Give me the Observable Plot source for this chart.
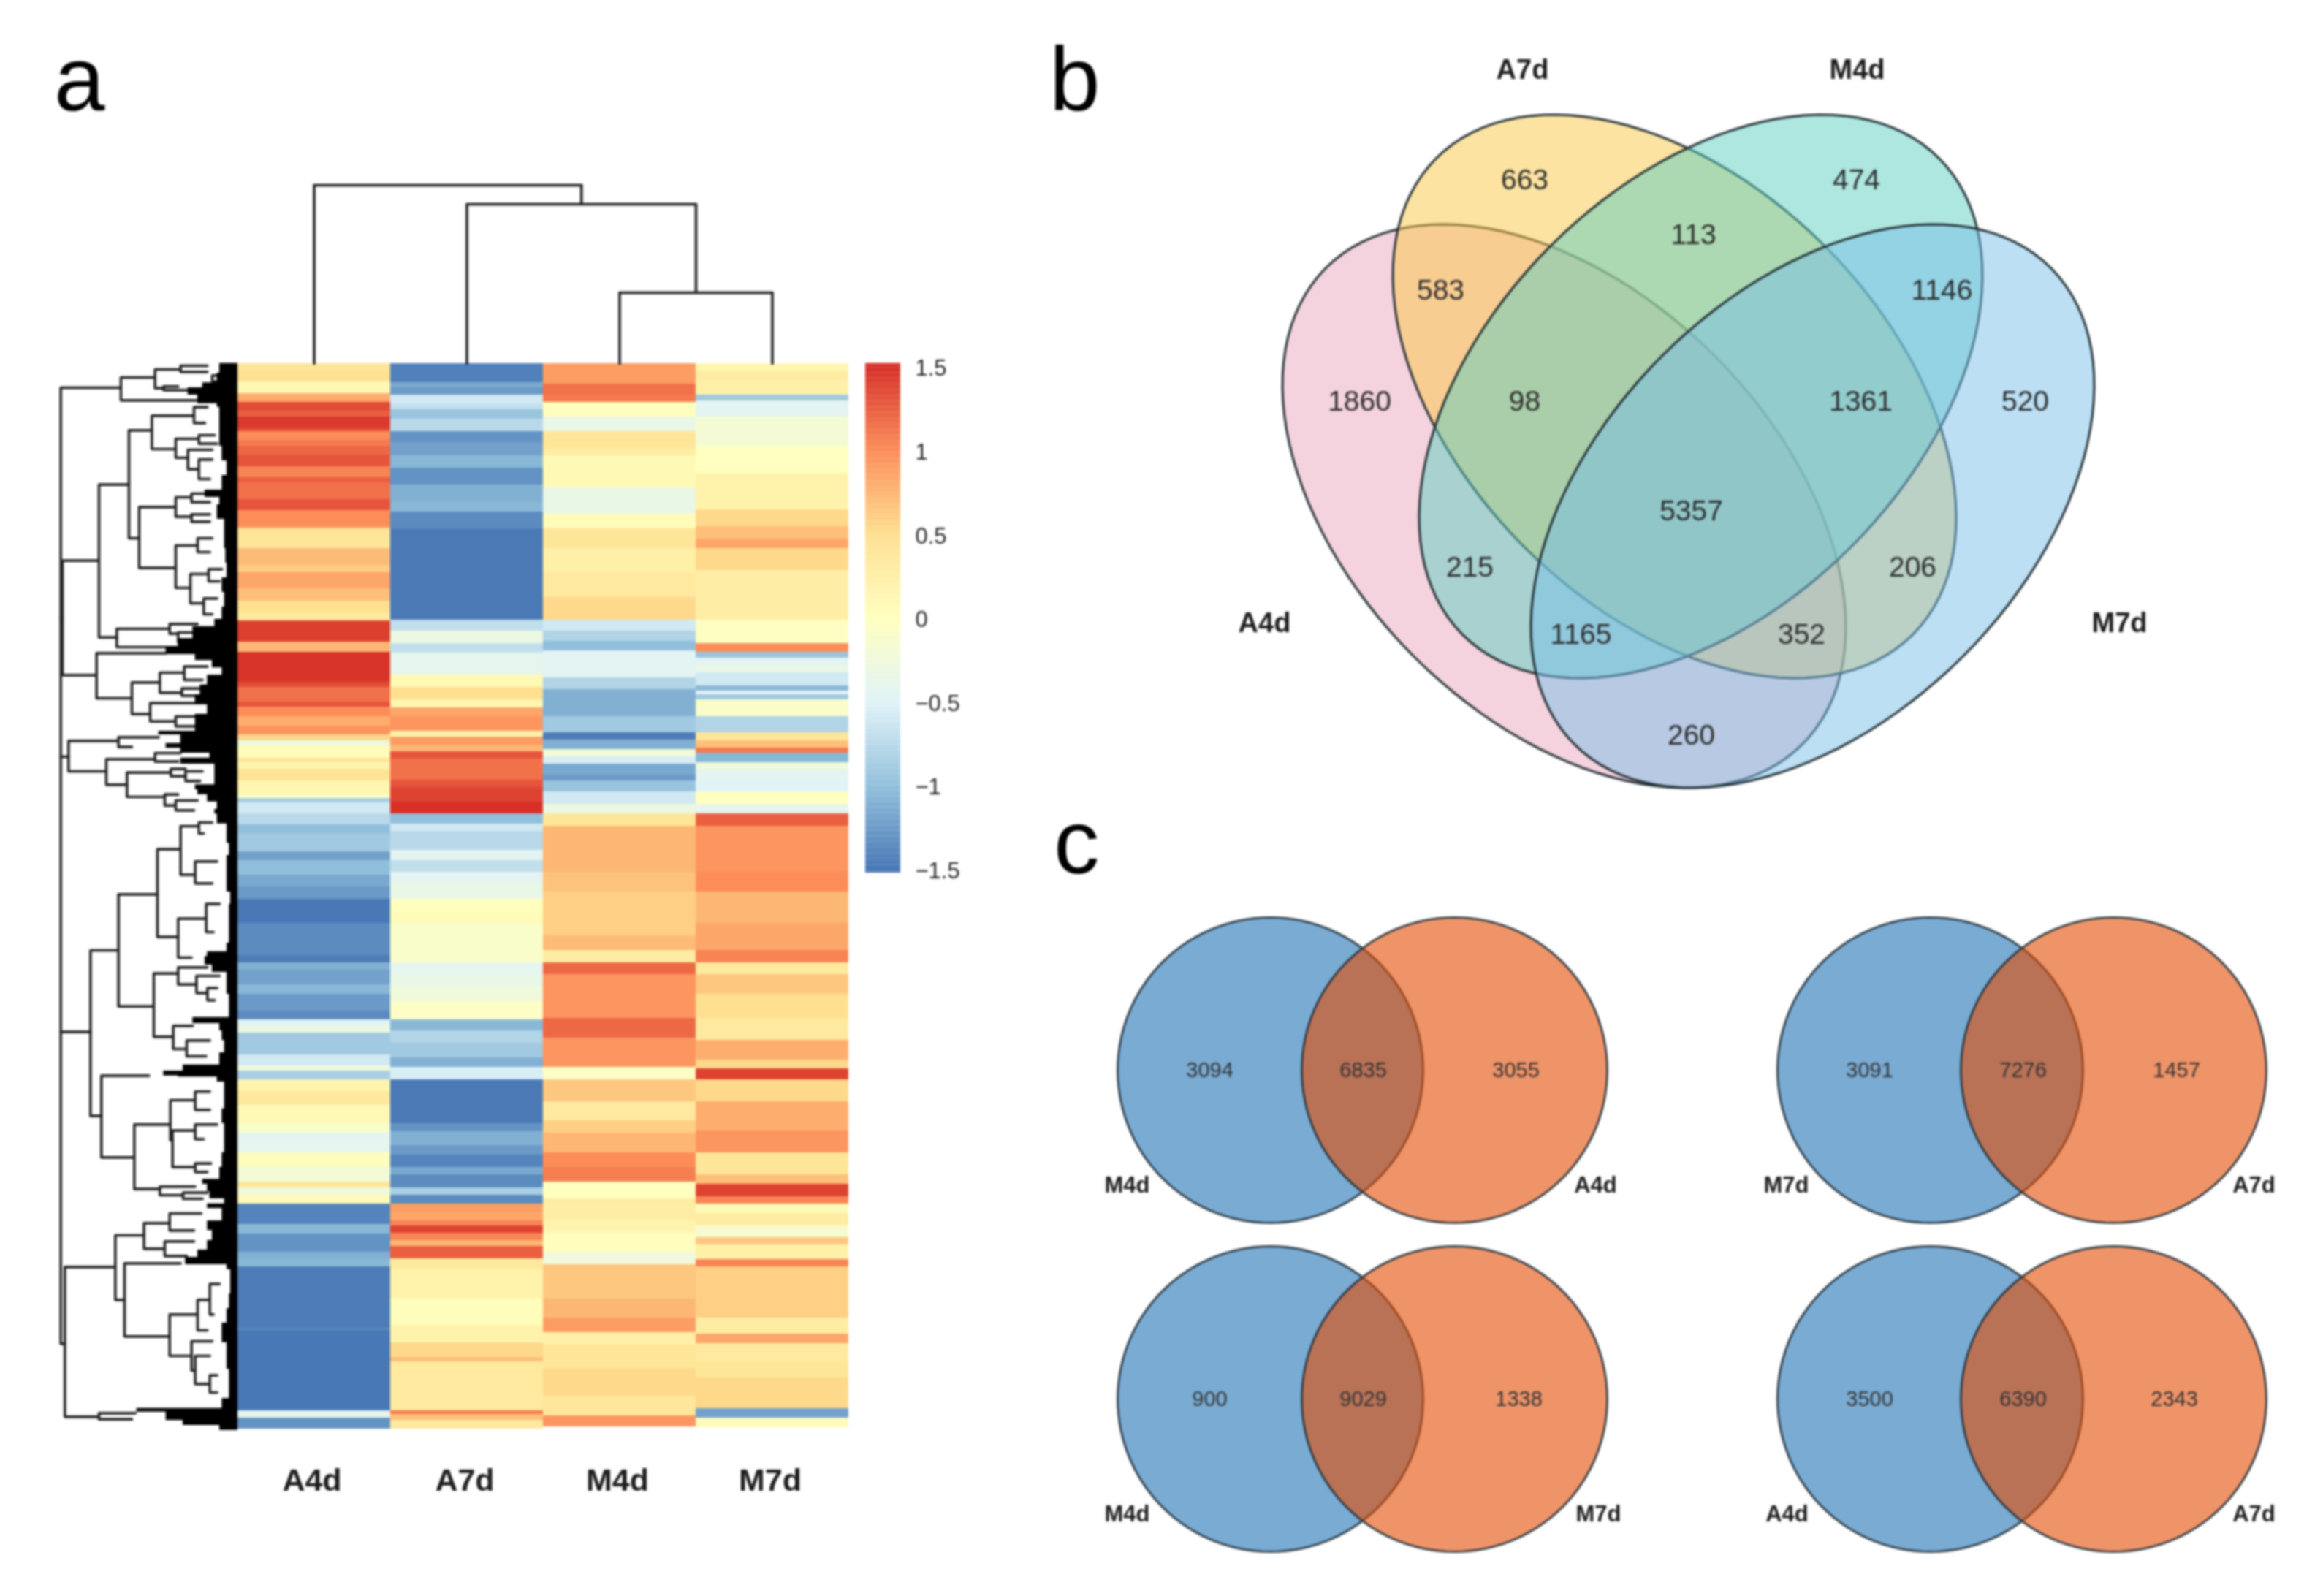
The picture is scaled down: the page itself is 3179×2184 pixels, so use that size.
<!DOCTYPE html>
<html>
<head>
<meta charset="utf-8">
<script src="https://cdn.jsdelivr.net/npm/d3@7"></script>
<script src="https://cdn.jsdelivr.net/npm/@observablehq/plot@0.6"></script>
<style>
  html,body{margin:0;padding:0;background:#fff;}
  #page{position:relative;width:3179px;height:2184px;overflow:hidden;font-family:"Liberation Sans",Arial,sans-serif;color:#000;filter:blur(1.4px);}
  #page>div.fig{position:absolute;}
  #page svg{display:block;overflow:visible;background:transparent;}
  .letter{position:absolute;font-size:125px;line-height:1;color:#000;}
</style>
</head>
<body>
<div id="page"></div>
<script>
const FONT = '"Liberation Sans", Arial, sans-serif';

// ---------- panel a: heat map ----------
const samples = ["A4d","A7d","M4d","M7d"];
const colorStops = [-1.5,-1,-0.5,0,0.5,1,1.5];
const colorRange = ["#4575B4","#91BFDB","#E0F3F8","#FFFFBF","#FEE090","#FC8D59","#D73027"];
const colorTicks = [1.5,1,0.5,0,-0.5,-1,-1.5];
// bands per sample: [row position at band end, z-score]
const a4dBands = [[8,.4],[25,.47],[41,.12],[48,.8],[53,.85],[65,1.35],[73,1.25],[88,1.45],[93,1.35],[105,1],[113,1.1],[125,1.2],[141,1.3],[156,1.05],[163,1.25],[186,1.15],[201,1.3],[223,1],[226,.85],[253,.42],[276,.72],[286,.62],[308,.85],[325,.7],[340,.5],[352,.35],[381,1.42],[395,.75],[436,1.48],[443,1.35],[463,1.15],[470,1.3],[483,1],[496,.8],[508,.95],[516,.55],[523,-.3],[540,.05],[546,.4],[555,.18],[571,.45],[590,.15],[595,-.1],[601,-.85],[616,-.6],[631,-.75],[643,-1],[668,-.9],[680,-1.2],[700,-1],[716,-1.15],[733,-1.25],[766,-1.48],[810,-1.35],[820,-1.45],[830,-1.1],[850,-1.2],[863,-1.05],[886,-1.25],[898,-1.35],[906,-.5],[916,-.3],[946,-.9],[961,-.6],[968,-.25],[980,-.85],[996,.18],[1015,.35],[1040,.1],[1053,-.1],[1063,-.45],[1080,-.4],[1100,.03],[1120,-.2],[1128,.4],[1138,-.25],[1150,.08],[1178,-1.4],[1191,-1.05],[1216,-1.3],[1226,-1.1],[1236,-1.05],[1320,-1.45],[1323,-1.35],[1433,-1.48],[1443,-.4],[1458,-1.3]];
const a7dBands = [[26,-1.42],[33,-1.15],[43,-1.25],[56,-.6],[63,-.7],[76,-.95],[93,-.75],[108,-1.3],[126,-1.2],[143,-1.05],[166,-1.3],[190,-1.1],[203,-1.05],[226,-1.35],[351,-1.47],[366,-.7],[383,-.3],[396,-.7],[426,-.4],[443,.1],[460,.5],[471,.15],[483,.85],[503,.95],[511,.2],[523,.9],[531,.75],[541,1.3],[570,1.15],[580,1.3],[600,1.4],[616,1.5],[630,-1],[640,-.6],[666,-.75],[680,-.45],[696,-.7],[710,-.45],[733,-.35],[750,.02],[766,.05],[820,-.1],[836,-.4],[853,-.35],[873,-.25],[898,-.05],[913,-1.05],[930,-.8],[950,-.9],[963,-1.1],[980,-.55],[1040,-1.47],[1051,-1.3],[1070,-1.1],[1083,-1.25],[1100,-1.4],[1110,-1.15],[1128,-1.35],[1138,-.85],[1150,-1.35],[1161,.9],[1173,.85],[1180,1.05],[1190,1.4],[1200,1.05],[1208,.75],[1225,1.25],[1240,.35],[1280,.2],[1316,.03],[1340,.2],[1360,.55],[1366,.7],[1433,.35],[1438,1.1],[1446,.7],[1458,.35]];
const m4dBands = [[28,.9],[43,1.15],[53,1.1],[73,.02],[93,-.35],[116,.42],[126,.3],[170,.1],[206,-.35],[226,.05],[253,.4],[286,.25],[320,.35],[351,.55],[366,-.6],[380,-.8],[393,-1],[430,-.45],[446,-.8],[483,-1.1],[505,-.9],[515,-1.45],[528,-1.1],[538,-.2],[548,-.55],[563,-1.15],[571,-1.25],[586,-.95],[603,-.6],[616,-.3],[633,.4],[696,.75],[723,.68],[783,.6],[803,.72],[820,.3],[836,1.2],[896,.95],[923,1.2],[963,.95],[980,-.05],[1010,.65],[1036,.35],[1053,.6],[1080,.75],[1100,1],[1120,1.08],[1143,0],[1150,.3],[1173,.28],[1190,.18],[1216,.02],[1233,-.25],[1280,.65],[1306,.75],[1326,.9],[1343,.25],[1376,.42],[1413,.55],[1440,.38],[1455,.95]];
const m7dBands = [[10,.15],[23,.3],[43,.25],[51,-.9],[73,-.45],[113,-.18],[150,0],[200,.2],[223,.55],[240,.7],[253,.85],[283,.55],[351,.28],[383,-.03],[395,1],[403,-.95],[413,-.45],[423,-.35],[441,-.6],[448,-1.05],[453,-.5],[460,-.9],[483,-.1],[505,-.8],[516,.4],[526,.7],[533,1.1],[546,-1.05],[556,-.25],[573,-.45],[586,-.5],[603,0],[616,-.4],[633,1.25],[696,.95],[723,1],[766,.75],[803,.85],[820,1.05],[836,.35],[863,.65],[896,.5],[926,.35],[953,.8],[965,.55],[980,1.4],[1010,.55],[1050,.8],[1080,.95],[1110,.42],[1123,.7],[1140,1.4],[1150,1.05],[1163,.1],[1180,.3],[1196,-.15],[1206,.65],[1226,.25],[1236,1.05],[1306,.6],[1328,.3],[1341,.85],[1366,.35],[1388,.4],[1430,.55],[1443,-1.2],[1456,.05]];
const bandsBySample = {A4d:a4dBands,A7d:a7dBands,M4d:m4dBands,M7d:m7dBands};

// column dendrogram: [x, height1, child x1, height2, child x2] with leaves at 0.5 .. 3.5
const columnTree = [[2.5,97,2.5,97,3.5],[1.5,218,1.5,218,3],[.5,244,.5,244,2.25]];
const columnStems = [[.5,0,244],[1.5,0,218],[2.5,0,97],[3.5,0,97],[3,97,218],[2.25,218,244]];

const rowTreeTop = [
[38,120,285,4045,55],[38,1065,38,1065,45],[45,830,190,1300,185],
[285,78,420,172,600],[425,45,530,122,460],[530,30,640,55,640],[460,115,520,130,610],[660,70,690,95,700],
[195,518,318,1145,268],[318,295,412,738,360],[412,235,585,372,510],[585,200,640,265,630],[510,330,605,408,560],[605,315,670,350,680],[560,375,660,455,605],[605,415,660,495,650],
[360,610,510,860,510],[510,570,575,650,575],[575,555,630,590,650],[575,640,650,670,650],[510,768,600,942,570],[600,738,660,795,650],[570,885,645,1005,625],[645,865,700,915,690],[625,985,680,1050,660],
[268,1110,485,1185,550],[485,1090,600,1130,520],[520,1125,590,1165,600],
[185,1210,470,1395,330],[330,1330,445,1460,405],[445,1290,545,1372,535],[545,1265,640,1320,620],[535,1355,610,1385,610],[405,1415,650,1490,510],[510,1470,590,1510,590]];
const rowTreeMid = [
[38,165,38,165,70],[70,100,275,225,225],[275,85,440,125,330],[225,175,425,280,310],[425,150,530,185,520],[310,230,490,330,465],[490,215,550,245,550],[550,225,620,265,610],[465,320,520,365,510],[510,345,600,385,585],
[38,1295,38,1295,160],[160,960,275,1640,205],[275,730,435,1190,420],[435,545,530,905,520],[530,450,605,650,590],[605,435,660,480,625],[590,595,680,685,660],[520,830,635,990,575],[635,770,690,885,665],[420,1055,520,1315,500],[520,1030,640,1100,595],[595,1065,690,1135,640],[640,1115,680,1165,670],[500,1270,580,1365,555],[555,1330,650,1395,635]];
const rowTreeLow = [
[205,5,400,340,340],[340,205,488,470,445],[488,105,590,270,497],[497,230,590,380,590],[590,70,650,145,650],[590,205,680,265,625],[590,365,655,400,640],[445,460,590,495,540],[540,485,640,510,620],
[55,790,262,1405,195],[262,660,380,925,300],[380,610,485,715,465],[485,570,615,640,585],[465,685,585,745,555],[300,775,530,1075,485],[485,985,600,1155,575],[600,925,650,1050,640],[650,860,690,985,665],[575,1095,660,1215,590],[590,1155,650,1270,650],[650,1235,680,1305,680],[195,1390,345,1415,330]];
// ragged left edge of the dense leaves: [y, x in crop]
const leafEdgeTop = [[20,640],[60,690],[100,680],[120,620],[150,560],[185,600],[200,680],[260,690],[300,690],[360,690],[420,700],[480,720],[540,700],[570,630],[600,690],[660,680],[720,710],[780,710],[840,715],[900,720],[960,700],[1020,710],[1070,700],[1100,670],[1150,580],[1185,520],[1215,470],[1240,590],[1270,660],[1300,700],[1340,640],[1380,610],[1420,590],[1460,640]];
const leafEdgeMid = [[60,590],[75,440],[110,530],[130,470],[150,530],[170,650],[195,530],[230,670],[280,670],[300,590],[320,600],[350,640],[380,680],[400,670],[440,680],[480,720],[520,720],[570,730],[620,720],[670,720],[720,720],[770,735],[830,730],[880,730],[930,730],[965,720],[985,640],[1020,630],[1050,660],[1090,720],[1140,720],[1190,730],[1235,730],[1260,580],[1290,690],[1330,700],[1380,710],[1430,690],[1455,540],[1475,460]];
const leafEdgeLow = [[10,520],[30,680],[80,710],[140,710],[200,700],[260,710],[320,710],[380,700],[430,690],[450,620],[480,640],[510,650],[530,710],[550,640],[600,700],[640,640],[680,660],[720,640],[750,600],[780,550],[800,720],[850,735],[900,735],[960,730],[1020,720],[1060,700],[1100,700],[1150,720],[1210,720],[1270,730],[1330,730],[1370,700],[1385,350],[1420,470],[1440,540],[1460,690]];

// ---------- panel b: four-set Venn ----------
const vennSets = ["A4d","A7d","M4d","M7d"];
const vennFill = ["#eba7bd","#fbc745","#5bcfc1","#79bfe9"];
const vennCx = [440,591,627,780];
const vennCy = [632,482,482,632];
const vennTilt = [45,45,-45,-45];
const vennLabelX = [30,383,841,1217];
const vennLabelY = [792,35,35,797];
const regionCounts = ["663","474","113","583","1146","1860","98","1361","520","5357","215","206","1165","352","260"];
const regionX = [386,840,617,271,957,160,386,846,1071,614,311,917,463,765,614];
const regionY = [186,186,261,337,337,489,489,489,489,639,716,716,808,808,946];

// ---------- panel c: two-set Venns ----------
const pairLeft = ["M4d","M7d","M4d","A4d"];
const pairRight = ["A4d","A7d","M7d","A7d"];
const pairOnlyLeft = ["3094","3091","900","3500"];
const pairBoth = ["6835","7276","9029","6390"];
const pairOnlyRight = ["3055","1457","1338","2343"];
const pairFigX = [1500,2403,1500,2403];
const pairFigY = [1244,1244,1694,1694];
const pairRightLabelX = [683,681,687,681];
const pairLeftLabelX = [42,41,42,42];
const pairRightCountX = [574,575,578,572];

// ---------- helpers ----------
const page = document.getElementById("page");
function place(node, left, top) {
  const d = document.createElement("div");
  d.className = "fig"; d.style.left = left + "px"; d.style.top = top + "px";
  d.appendChild(node); page.appendChild(d);
}
function letter(t, left, top) {
  const d = document.createElement("div");
  d.className = "letter"; d.textContent = t; d.style.left = left + "px"; d.style.top = top + "px";
  page.appendChild(d);
}
const flat = {marginTop:0,marginRight:0,marginBottom:0,marginLeft:0};
const unit = (w, h) => ({
  ...flat, width:w, height:h,
  x:{domain:[0,w],range:[0,w],axis:null},
  y:{domain:[0,h],range:[0,h],axis:null},
  style:{fontFamily:FONT,background:"transparent",overflow:"visible"}
});
function outline(cx, cy, a, b, deg) {
  const t = deg * Math.PI / 180;
  return d3.range(0, 361, 3).map(k => {
    const u = k * Math.PI / 180, ex = a * Math.cos(u), ey = b * Math.sin(u);
    return {x: cx + ex * Math.cos(t) - ey * Math.sin(t), y: cy + ex * Math.sin(t) + ey * Math.cos(t)};
  });
}
const colorScale = {type:"linear",domain:colorStops,range:colorRange,interpolate:"rgb",clamp:true};

// ---------- heat map ----------
const heatBars = samples.flatMap(s => {
  let prev = 0;
  return bandsBySample[s].map(([end, z]) => { const b = {sample:s,start:prev,end,z}; prev = end; return b; });
});
place(Plot.plot({
  width:836, height:1568, marginTop:0, marginRight:0, marginLeft:0, marginBottom:110,
  x:{domain:samples,padding:0,axis:null},
  y:{domain:[1458,0],axis:null},
  color:colorScale,
  style:{fontFamily:FONT,background:"transparent",overflow:"visible"},
  marks:[
    Plot.barY(heatBars,{x:"sample",y1:"start",y2:"end",fill:"z"}),
    Plot.axisX({anchor:"bottom",tickSize:0,tickPadding:54,fontSize:43,fontWeight:"bold",fill:"#1c1c1c",fontFamily:FONT,label:null,dx:-3})
  ]
}), 325, 497);

// ---------- column dendrogram ----------
const colPaths = [
  ...columnTree.flatMap((b,i) => [{id:i,x:b[2],h:b[1]},{id:i,x:b[4],h:b[3]}]),
  ...columnStems.flatMap((s,i) => [{id:"s"+i,x:s[0],h:s[1]},{id:"s"+i,x:s[0],h:s[2]}])
];
place(Plot.plot({
  ...flat, width:836, height:244,
  x:{domain:[0,4],axis:null},
  y:{domain:[0,244],axis:null},
  style:{background:"transparent",overflow:"visible"},
  marks:[Plot.line(colPaths,{x:"x",y:"h",z:"id",stroke:"#222",strokeWidth:3.6,curve:"linear"})]
}), 325, 253);

// ---------- row dendrogram ----------
const dist = dx => 255 - dx / 3;
const toPaths = (list, shift, tag) => list.flatMap((b, i) => [
  {id:tag+i,d:dist(b[2]),r:b[1]/3+shift},
  {id:tag+i,d:dist(b[0]),r:b[1]/3+shift},
  {id:tag+i,d:dist(b[0]),r:b[3]/3+shift},
  {id:tag+i,d:dist(b[4]),r:b[3]/3+shift}
]);
const rowPaths = [...toPaths(rowTreeTop,-7,"t"),...toPaths(rowTreeMid,483,"m"),...toPaths(rowTreeLow,973,"l")];
const edge = [
  ...leafEdgeTop.map(([y,x]) => ({r:y/3-7,d:dist(x)})),
  ...leafEdgeMid.map(([y,x]) => ({r:y/3+483,d:dist(x)})),
  ...leafEdgeLow.map(([y,x]) => ({r:y/3+973,d:dist(x)}))
];
place(Plot.plot({
  ...flat, width:255, height:1458,
  x:{domain:[255,0],axis:null},
  y:{domain:[1458,0],axis:null},
  style:{background:"transparent",overflow:"visible"},
  marks:[
    Plot.line(rowPaths,{x:"d",y:"r",z:"id",stroke:"#222",strokeWidth:3.6,curve:"linear"}),
    Plot.areaX(edge,{x1:"d",x2:0,y:"r",fill:"#000",curve:"step-after"})
  ]
}), 70, 497);

// ---------- colour key ----------
const keyValues = d3.range(-1.51, 1.53, 0.01);
place(Plot.plot({
  ...flat, width:48, height:697,
  x:{domain:[0,1],range:[0,48],axis:null},
  y:{domain:[-1.51,1.53],axis:null},
  color:colorScale,
  style:{fontFamily:FONT,background:"transparent",overflow:"visible"},
  marks:[
    Plot.rect(keyValues,{x1:0,x2:1,y1:d=>d,y2:d=>d+0.011,fill:d=>d}),
    Plot.axisY(colorTicks,{anchor:"right",tickSize:0,tickPadding:20,fontSize:31,fill:"#222",fontFamily:FONT,label:null,
      tickFormat:d=>d<0?"\u2212"+Math.abs(d):String(d)})
  ]
}), 1184, 497);

// ---------- four-set Venn ----------
const vennText = regionCounts.map((t,i)=>({t,x:regionX[i],y:regionY[i]}));
const vennLabels = vennSets.map((t,i)=>({t,x:i===3?vennLabelX[i]-17:vennLabelX[i],y:i===3?vennLabelY[i]-5:vennLabelY[i]}));
place(Plot.plot({
  ...unit(1250,1070),
  marks:[
    ...vennSets.map((s,i)=>Plot.line(outline(vennCx[i],vennCy[i],461,291,vennTilt[i]),
      {x:"x",y:"y",fill:vennFill[i],fillOpacity:.5,stroke:"#1f2c32",strokeWidth:3,curve:"linear"})),
    Plot.text(vennText,{x:"x",y:"y",text:"t",fontSize:39,fill:"#2c2c2c",fontFamily:FONT}),
    Plot.text(vennLabels,{x:"x",y:"y",text:"t",fontSize:38,fontWeight:"bold",fill:"#1c1c1c",fontFamily:FONT})
  ]
}), 1700, 60);

// ---------- two-set Venns ----------
pairLeft.forEach((name,i)=>{
  const rx = i % 2 ? 489 : 490;
  place(Plot.plot({
    ...unit(720,440),
    marks:[
      Plot.line(outline(238,220,209,209,0),{x:"x",y:"y",fill:"#2173b6",fillOpacity:.6,stroke:"#22303a",strokeWidth:2.6,curve:"linear"}),
      Plot.line(outline(rx,220,209,209,0),{x:"x",y:"y",fill:"#e44d03",fillOpacity:.6,stroke:"#22303a",strokeWidth:2.6,curve:"linear"}),
      Plot.text([
        {t:pairOnlyLeft[i],x:155},{t:pairBoth[i],x:365},{t:pairOnlyRight[i],x:pairRightCountX[i]}
      ],{x:"x",y:()=>220,text:"t",fontSize:29,fill:"#333",fontFamily:FONT}),
      Plot.text([
        {t:name,x:pairLeftLabelX[i]},{t:pairRight[i],x:pairRightLabelX[i]}
      ],{x:"x",y:()=>378,text:"t",fontSize:31,fontWeight:"bold",fill:"#1c1c1c",fontFamily:FONT})
    ]
  }), pairFigX[i], pairFigY[i]);
});

letter("a",74,45);
letter("b",1436,45);
letter("c",1442,1089);
</script>
</body>
</html>
